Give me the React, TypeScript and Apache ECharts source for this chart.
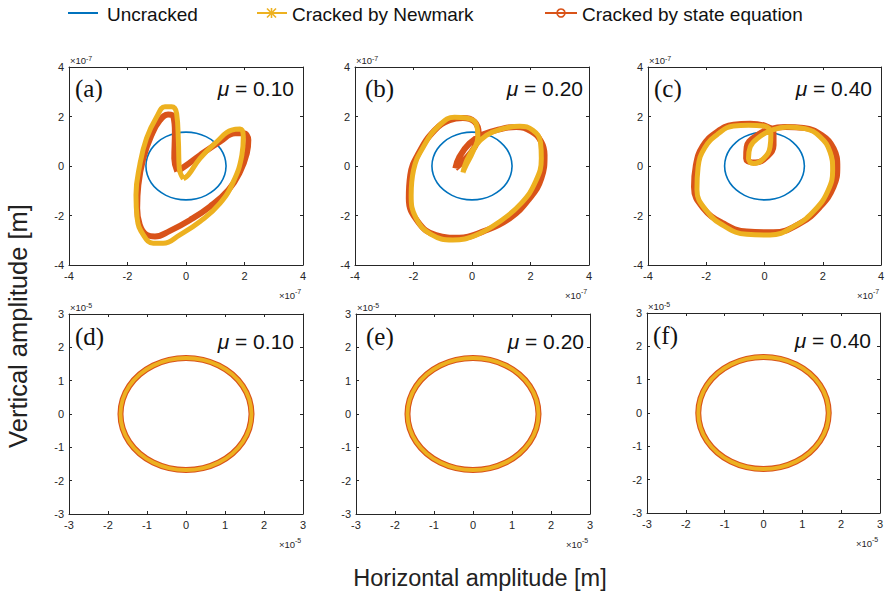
import React, { useEffect, useRef } from "react";
import * as echarts from "echarts";

const PANEL_LABELS = ["(a)", "(b)", "(c)", "(d)", "(e)", "(f)"];
const MU_VALUES = ["0.10", "0.20", "0.40", "0.10", "0.20", "0.40"];
const TOP_TICKS = { min: -4, max: 4, step: 2, exponent: "-7" };
const BOTTOM_TICKS = { min: -3, max: 3, step: 1, exponent: "-5" };
const LEGEND_NAMES = ["Uncracked", "Cracked by Newmark", "Cracked by state equation"];
const X_TITLE = "Horizontal amplitude [m]";
const Y_TITLE = "Vertical amplitude [m]";

// top row (units of 1e-7 m)
const UNCRACKED_TOP = [
  [1.37, 0], [1.323, 0.355], [1.186, 0.685], [0.969, 0.969], [0.685, 1.186], [0.355, 1.323],
  [0, 1.37], [-0.355, 1.323], [-0.685, 1.186], [-0.969, 0.969], [-1.186, 0.685], [-1.323, 0.355],
  [-1.37, 0], [-1.323, -0.355], [-1.186, -0.685], [-0.969, -0.969], [-0.685, -1.186], [-0.355, -1.323],
  [0, -1.37], [0.355, -1.323], [0.685, -1.186], [0.969, -0.969], [1.186, -0.685], [1.323, -0.355], [1.37, 0],
];

const STATE_A = [
  [-0.3, -0.22], [-0.4, 0.3], [-0.38, 1.38], [-0.43, 1.99], [-0.61, 2.08], [-0.89, 1.85], [-1.18, 1.25],
  [-1.46, 0.31], [-1.63, -0.77], [-1.67, -1.71], [-1.58, -2.38], [-1.35, -2.78], [-1.06, -2.85],
  [-0.55, -2.62], [0.14, -2.18], [0.82, -1.64], [1.45, -0.97], [1.85, -0.23], [2.08, 0.51], [2.13, 1.05],
  [1.96, 1.32], [1.68, 1.32], [1.16, 0.98], [0.48, 0.44], [0.0, 0.02], [-0.3, -0.22],
];
const NEWMARK_A = [
  [-0.09, -0.52], [-0.23, -0.09], [-0.26, 0.98], [-0.32, 2.12], [-0.49, 2.39], [-0.72, 2.39], [-1.0, 1.99],
  [-1.35, 1.12], [-1.58, 0.04], [-1.71, -1.17], [-1.67, -2.11], [-1.46, -2.78], [-1.12, -3.12],
  [-0.78, -3.12], [-0.21, -2.78], [0.48, -2.24], [1.16, -1.51], [1.62, -0.63], [1.91, 0.44], [1.96, 1.18],
  [1.85, 1.49], [1.56, 1.45], [1.05, 0.98], [0.48, 0.31], [0.08, -0.36], [-0.09, -0.52],
];

const STATE_B = [
  [-0.57, -0.1], [-0.43, 0.37], [-0.09, 0.91], [0.37, 1.27], [0.94, 1.48], [1.51, 1.58], [2.03, 1.4],
  [2.37, 0.97], [2.48, 0.44], [2.37, -0.5], [1.97, -1.31], [1.28, -2.12], [0.37, -2.65], [-0.43, -2.9],
  [-1.23, -2.79], [-1.85, -2.25], [-2.16, -1.31], [-2.11, -0.37], [-1.8, 0.57], [-1.28, 1.44],
  [-0.77, 1.85], [-0.31, 1.94], [0.09, 1.78], [0.23, 1.31], [0.09, 0.77], [-0.26, 0.24], [-0.57, -0.1],
];
const NEWMARK_B = [
  [-0.31, -0.26], [-0.2, 0.17], [0.09, 0.77], [0.49, 1.24], [1.06, 1.51], [1.63, 1.61], [2.08, 1.44],
  [2.34, 0.97], [2.37, 0.3], [2.17, -0.64], [1.68, -1.51], [0.94, -2.25], [0.14, -2.79], [-0.66, -2.99],
  [-1.4, -2.76], [-1.91, -2.12], [-2.08, -1.18], [-2.0, -0.17], [-1.63, 0.84], [-1.11, 1.65],
  [-0.6, 1.97], [-0.2, 1.94], [0.14, 1.71], [0.2, 1.18], [0.03, 0.57], [-0.2, 0.03], [-0.31, -0.26],
];

const STATE_C = [
  [-0.49, 1.71], [0.02, 1.62], [0.31, 1.31], [0.31, 0.84], [0.08, 0.37], [-0.32, 0.14], [-0.63, 0.3],
  [-0.61, 0.77], [-0.26, 1.24], [0.19, 1.49], [0.71, 1.58], [1.34, 1.54], [1.97, 1.24], [2.37, 0.71],
  [2.5, -0.03], [2.37, -0.84], [1.91, -1.65], [1.22, -2.32], [0.31, -2.68], [-0.61, -2.65], [-1.41, -2.32],
  [-2.12, -1.68], [-2.42, -0.85], [-2.36, 0.0], [-2.12, 0.8], [-1.63, 1.38], [-1.06, 1.67], [-0.49, 1.71],
];
const NEWMARK_C = [
  [-0.55, 1.65], [-0.03, 1.62], [0.22, 1.31], [0.19, 0.77], [-0.03, 0.3], [-0.38, 0.1], [-0.55, 0.3],
  [-0.49, 0.77], [-0.17, 1.18], [0.25, 1.45], [0.77, 1.58], [1.39, 1.51], [1.91, 1.18], [2.25, 0.57],
  [2.34, -0.17], [2.19, -0.97], [1.73, -1.78], [1.05, -2.41], [0.19, -2.79], [-0.61, -2.76], [-1.35, -2.45],
  [-2.0, -1.8], [-2.32, -0.95], [-2.28, -0.05], [-2.05, 0.74], [-1.58, 1.31], [-1.06, 1.62], [-0.55, 1.65],
];

// bottom row (units of 1e-5 m)
const RING_BOTTOM = [
  [1.68, 0], [1.623, 0.435], [1.455, 0.84], [1.188, 1.188], [0.84, 1.455], [0.435, 1.623],
  [0, 1.68], [-0.435, 1.623], [-0.84, 1.455], [-1.188, 1.188], [-1.455, 0.84], [-1.623, 0.435],
  [-1.68, 0], [-1.623, -0.435], [-1.455, -0.84], [-1.188, -1.188], [-0.84, -1.455], [-0.435, -1.623],
  [0, -1.68], [0.435, -1.623], [0.84, -1.455], [1.188, -1.188], [1.455, -0.84], [1.623, -0.435], [1.68, 0],
];

const PANEL_DATA = [
  [UNCRACKED_TOP, NEWMARK_A, STATE_A],
  [UNCRACKED_TOP, NEWMARK_B, STATE_B],
  [UNCRACKED_TOP, NEWMARK_C, STATE_C],
  [RING_BOTTOM, RING_BOTTOM, RING_BOTTOM],
  [RING_BOTTOM, RING_BOTTOM, RING_BOTTOM],
  [RING_BOTTOM, RING_BOTTOM, RING_BOTTOM],
];

const LAYOUT = [
  { left: 69, top: 67, width: 234, height: 198 },
  { left: 355, top: 67, width: 234, height: 198 },
  { left: 648, top: 67, width: 233, height: 198 },
  { left: 69, top: 314, width: 234, height: 200 },
  { left: 356, top: 314, width: 234, height: 200 },
  { left: 647, top: 313, width: 233, height: 200 },
];

const BLUE = "#0072BD";
const YELLOW = "#EDB120";
const ORANGE = "#D95319";
const AXIS_COLOR = "#262626";
const SANS = "Liberation Sans, Arial, sans-serif";
const SERIF = "Liberation Serif, Times New Roman, serif";

function buildOption() {
  const grid: any[] = [];
  const xAxis: any[] = [];
  const yAxis: any[] = [];
  const series: any[] = [];
  const graphic: any[] = [];

  LAYOUT.forEach((L, i) => {
    const ticks = i < 3 ? TOP_TICKS : BOTTOM_TICKS;
    grid.push({ left: L.left, top: L.top, width: L.width, height: L.height, containLabel: false });
    const base = (pos: string, showLabel: boolean, idx: number) => ({
      gridIndex: idx,
      type: "value",
      min: ticks.min,
      max: ticks.max,
      interval: ticks.step,
      position: pos,
      axisLine: { show: true, onZero: false, lineStyle: { color: AXIS_COLOR, width: 1 } },
      axisTick: { show: true, inside: true, length: 3, lineStyle: { color: AXIS_COLOR, width: 1 } },
      axisLabel: {
        show: showLabel,
        color: AXIS_COLOR,
        fontSize: 11,
        fontFamily: SANS,
        margin: 5,
        showMinLabel: true,
        showMaxLabel: true,
      },
      splitLine: { show: false },
    });
    xAxis.push(base("bottom", true, i));
    xAxis.push(base("top", false, i));
    yAxis.push(base("left", true, i));
    yAxis.push(base("right", false, i));

    const [unc, nm, st] = PANEL_DATA[i];
    const common = {
      type: "line",
      xAxisIndex: 2 * i,
      yAxisIndex: 2 * i,
      symbol: "none",
      showSymbol: false,
      smooth: 0.45,
      clip: true,
      silent: true,
    };
    const bottom = i >= 3;
    series.push({ ...common, name: LEGEND_NAMES[0], data: unc, lineStyle: { color: BLUE, width: 1.6 }, z: 2 });
    series.push({ ...common, name: LEGEND_NAMES[2], data: st, lineStyle: { color: ORANGE, width: 6 }, z: 3 });
    series.push({ ...common, name: LEGEND_NAMES[1], data: nm, lineStyle: { color: YELLOW, width: bottom ? 3.8 : 5 }, z: 4 });

    // panel label and mu
    graphic.push({
      type: "text",
      x: L.left + (i % 3 === 2 ? 6 : i % 3 === 1 ? 10 : 6),
      y: L.top + (i < 3 ? 21 : 22),
      style: { text: PANEL_LABELS[i], fontFamily: SERIF, fontSize: 25, fill: "#111", align: "left", verticalAlign: "middle" },
    });
    graphic.push({
      type: "text",
      x: L.left + L.width - (i % 3 === 1 ? 6 : 9),
      y: L.top + (i < 3 ? 21 : 27),
      style: {
        text: "{i|μ} = " + MU_VALUES[i],
        rich: { i: { fontStyle: "italic", fontFamily: SANS, fontSize: 21, fill: "#111" } },
        fontFamily: SANS,
        fontSize: 21,
        fill: "#111",
        align: "right",
        verticalAlign: "middle",
      },
    });
    // exponent labels
    const right = L.left + L.width;
    const bot = L.top + L.height;
    graphic.push({ type: "text", x: L.left + 1, y: L.top - 1.5, style: { text: "×10", fontFamily: SANS, fontSize: 9.5, fill: AXIS_COLOR, align: "left", verticalAlign: "bottom" } });
    graphic.push({ type: "text", x: L.left + 17, y: L.top - 5, style: { text: ticks.exponent, fontFamily: SANS, fontSize: 7, fill: AXIS_COLOR, align: "left", verticalAlign: "bottom" } });
    graphic.push({ type: "text", x: right - 8, y: bot + 35, style: { text: "×10", fontFamily: SANS, fontSize: 9.5, fill: AXIS_COLOR, align: "right", verticalAlign: "bottom" } });
    graphic.push({ type: "text", x: right - 8, y: bot + 30, style: { text: ticks.exponent, fontFamily: SANS, fontSize: 7, fill: AXIS_COLOR, align: "left", verticalAlign: "bottom" } });
  });

  // legend
  const LY = 13;
  const TY = 14;
  graphic.push({ type: "line", shape: { x1: 68, y1: LY, x2: 98, y2: LY }, style: { stroke: BLUE, lineWidth: 2 } });
  graphic.push({ type: "text", x: 107, y: TY, style: { text: LEGEND_NAMES[0], fontFamily: SANS, fontSize: 19, fill: "#111", align: "left", verticalAlign: "middle" } });
  graphic.push({ type: "line", shape: { x1: 257, y1: LY, x2: 287, y2: LY }, style: { stroke: YELLOW, lineWidth: 2 } });
  graphic.push({ type: "line", shape: { x1: 271.5, y1: LY - 5, x2: 271.5, y2: LY + 5 }, style: { stroke: YELLOW, lineWidth: 1.6 } });
  graphic.push({ type: "line", shape: { x1: 267, y1: LY - 4.5, x2: 276, y2: LY + 4.5 }, style: { stroke: YELLOW, lineWidth: 1.6 } });
  graphic.push({ type: "line", shape: { x1: 267, y1: LY + 4.5, x2: 276, y2: LY - 4.5 }, style: { stroke: YELLOW, lineWidth: 1.6 } });
  graphic.push({ type: "text", x: 292, y: TY, style: { text: LEGEND_NAMES[1], fontFamily: SANS, fontSize: 19, fill: "#111", align: "left", verticalAlign: "middle" } });
  graphic.push({ type: "line", shape: { x1: 545, y1: LY, x2: 577, y2: LY }, style: { stroke: ORANGE, lineWidth: 2 } });
  graphic.push({ type: "circle", shape: { cx: 561, cy: LY, r: 4 }, style: { stroke: ORANGE, lineWidth: 1.6, fill: "none" } });
  graphic.push({ type: "text", x: 582, y: TY, style: { text: LEGEND_NAMES[2], fontFamily: SANS, fontSize: 19, fill: "#111", align: "left", verticalAlign: "middle" } });

  // axis titles
  graphic.push({ type: "text", x: 480, y: 578, style: { text: X_TITLE, fontFamily: SANS, fontSize: 23.5, fill: "#222", align: "center", verticalAlign: "middle" } });
  graphic.push({ type: "text", x: 18, y: 326, rotation: Math.PI / 2, style: { text: Y_TITLE, fontFamily: SANS, fontSize: 25.5, fill: "#222", align: "center", verticalAlign: "middle" } });

  return { animation: false, backgroundColor: "#fff", grid, xAxis, yAxis, series, graphic };
}

export default function App() {
  const ref = useRef<HTMLDivElement>(null);
  useEffect(() => {
    document.body.style.margin = "0";
    if (!ref.current) return;
    const chart = echarts.init(ref.current, undefined, { renderer: "svg" });
    chart.setOption(buildOption() as any);
    return () => chart.dispose();
  }, []);
  return <div ref={ref} style={{ width: 888, height: 592 }} />;
}
